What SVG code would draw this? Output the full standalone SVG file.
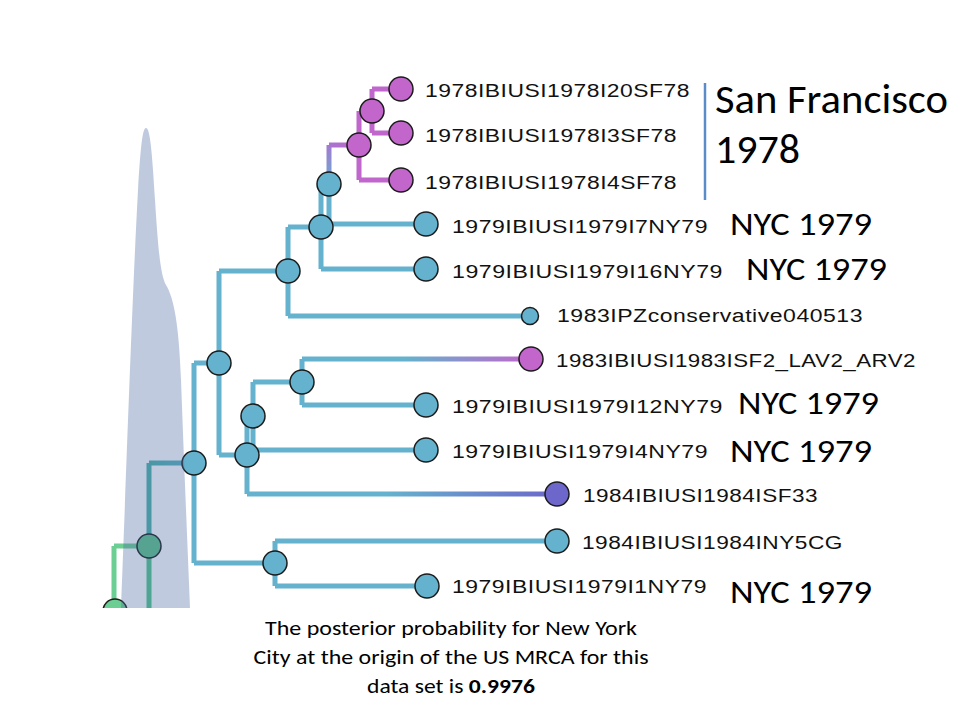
<svg xmlns="http://www.w3.org/2000/svg" width="960" height="720" viewBox="0 0 960 720">
<defs>
<style>
.e{fill:none;stroke-width:5;stroke-linejoin:miter}
.b{stroke:#64b2cd}
.p{stroke:#c066cc}
.n{stroke:#1c1c1c;stroke-width:1.5}
.nb{fill:#64b2cd}
.np{fill:#c266cc}
.tip{font-family:"Liberation Sans",Arial,sans-serif;font-size:18px;letter-spacing:0.4px;fill:#111}
.big{font-family:Carlito,Calibri,Lato,"Open Sans",sans-serif;fill:#000}
.cap{font-family:Carlito,Calibri,Lato,"Open Sans",sans-serif;font-size:21px;fill:#000;text-anchor:middle}
</style>
<linearGradient id="gCBv" gradientUnits="userSpaceOnUse" x1="0" y1="184" x2="0" y2="145"><stop offset="0" stop-color="#68aed0"/><stop offset="1" stop-color="#a37ad0"/></linearGradient>
<linearGradient id="gCBh" gradientUnits="userSpaceOnUse" x1="329" y1="0" x2="359" y2="0"><stop offset="0" stop-color="#a874cf"/><stop offset="1" stop-color="#c066cc"/></linearGradient>
<linearGradient id="gSF2" gradientUnits="userSpaceOnUse" x1="302" y1="0" x2="531" y2="0"><stop offset="0" stop-color="#64b2cd"/><stop offset="0.45" stop-color="#64b2cd"/><stop offset="1" stop-color="#c066cc"/></linearGradient>
<linearGradient id="gSF33" gradientUnits="userSpaceOnUse" x1="247" y1="0" x2="557" y2="0"><stop offset="0" stop-color="#64b2cd"/><stop offset="0.45" stop-color="#64b2cd"/><stop offset="1" stop-color="#6d66cb"/></linearGradient>
<linearGradient id="gMK" gradientUnits="userSpaceOnUse" x1="149" y1="0" x2="194" y2="0"><stop offset="0" stop-color="#4ab2a6"/><stop offset="1" stop-color="#5fb0c8"/></linearGradient>
<clipPath id="clip"><rect x="0" y="0" width="960" height="608"/></clipPath>
</defs>
<rect width="960" height="720" fill="#fff"/>

<g clip-path="url(#clip)">
<g id="connectors">
<path class="e p" d="M372,89 V133 M372,89 H401 M372,133 H401"/>
<path class="e p" d="M359,111 V180 M359,111 H372 M359,180 H401"/>
<path class="e" stroke="url(#gCBv)" d="M329,184 V145"/>
<path class="e" stroke="url(#gCBh)" d="M329,145 H359"/>
<path class="e b" d="M329,184 V224 H426"/>
<path class="e b" d="M321,184 V269 M321,184 H329 M321,269 H426"/>
<path class="e b" d="M288,227 V316 M288,227 H321 M288,316 H530"/>
<path class="e b" d="M219,271 V455 M219,271 H288 M219,455 H247"/>
<path class="e b" d="M302,359 V405 M302,405 H426"/>
<path class="e" stroke="url(#gSF2)" d="M302,359 H531"/>
<path class="e b" d="M253,382 V450 M253,382 H302 M253,450 H426"/>
<path class="e b" d="M247,416 V494 M247,416 H253"/>
<path class="e" stroke="url(#gSF33)" d="M247,494 H557"/>
<path class="e b" d="M194,363 V563 M194,363 H219 M194,563 H275"/>
<path class="e b" d="M275,541 V586 M275,541 H557 M275,586 H427"/>
<path class="e" stroke="url(#gMK)" d="M149,463 H194"/>
<path class="e" stroke="#4ab2a6" d="M149,463 V546"/>
<path class="e" stroke="#50c68a" d="M149,546 V640"/>
<path class="e" stroke="#6bcf93" d="M114,546 V640 M114,546 H149"/>
</g>

<g id="node-A"><circle class="n np" cx="372" cy="111" r="12"/></g>
<g id="node-B"><circle class="n np" cx="359" cy="145" r="12"/></g>
<g id="node-C"><circle class="n nb" cx="329" cy="184" r="12"/></g>
<g id="node-D"><circle class="n nb" cx="321" cy="227" r="12"/></g>
<g id="node-E"><circle class="n nb" cx="288" cy="271" r="12"/></g>
<g id="node-F"><circle class="n nb" cx="219" cy="363" r="12"/></g>
<g id="node-J"><circle class="n nb" cx="302" cy="382" r="12"/></g>
<g id="node-I"><circle class="n nb" cx="253" cy="416" r="12"/></g>
<g id="node-H"><circle class="n nb" cx="247" cy="455" r="12"/></g>
<g id="node-K"><circle class="n nb" cx="194" cy="463" r="12"/></g>
<g id="node-L"><circle class="n nb" cx="275" cy="563" r="12"/></g>
<g id="node-M"><circle class="n" fill="#5cc488" cx="149" cy="546" r="12"/></g>
<g id="node-N"><circle class="n" fill="#6bcf93" cx="115" cy="611" r="12"/></g>

<path fill="#4b68a4" fill-opacity="0.35" d="M121,608 C126,480 132,300 138,190 C141,140 143,128 146,128 C150,128 152,150 155,200 C158,245 160,274 166,285 C174,298 179,325 181,380 L184,460 L190,608 Z"/>
</g>

<g id="tip-20SF78"><circle class="n np" cx="401" cy="89" r="12"/><text class="tip" x="425" y="97" textLength="265" lengthAdjust="spacingAndGlyphs">1978IBIUSI1978I20SF78</text></g>
<g id="tip-3SF78"><circle class="n np" cx="401" cy="133" r="12"/><text class="tip" x="425" y="142" textLength="252" lengthAdjust="spacingAndGlyphs">1978IBIUSI1978I3SF78</text></g>
<g id="tip-4SF78"><circle class="n np" cx="401" cy="180" r="12"/><text class="tip" x="425" y="189" textLength="252" lengthAdjust="spacingAndGlyphs">1978IBIUSI1978I4SF78</text></g>
<g id="tip-7NY79"><circle class="n nb" cx="426" cy="224" r="12"/><text class="tip" x="452" y="233" textLength="256" lengthAdjust="spacingAndGlyphs">1979IBIUSI1979I7NY79</text></g>
<g id="tip-16NY79"><circle class="n nb" cx="426" cy="269" r="12"/><text class="tip" x="452" y="278" textLength="271" lengthAdjust="spacingAndGlyphs">1979IBIUSI1979I16NY79</text></g>
<g id="tip-PZ"><circle class="n nb" cx="530" cy="316" r="8.5"/><text class="tip" x="557" y="322" textLength="306" lengthAdjust="spacingAndGlyphs">1983IPZconservative040513</text></g>
<g id="tip-SF2"><circle class="n np" cx="531" cy="359" r="12"/><text class="tip" x="556" y="367" textLength="360" lengthAdjust="spacingAndGlyphs">1983IBIUSI1983ISF2_LAV2_ARV2</text></g>
<g id="tip-12NY79"><circle class="n nb" cx="426" cy="405" r="12"/><text class="tip" x="452" y="413" textLength="271" lengthAdjust="spacingAndGlyphs">1979IBIUSI1979I12NY79</text></g>
<g id="tip-4NY79"><circle class="n nb" cx="426" cy="450" r="12"/><text class="tip" x="452" y="458" textLength="256" lengthAdjust="spacingAndGlyphs">1979IBIUSI1979I4NY79</text></g>
<g id="tip-SF33"><circle class="n" fill="#6d66cb" cx="557" cy="494" r="12"/><text class="tip" x="583" y="502" textLength="235" lengthAdjust="spacingAndGlyphs">1984IBIUSI1984ISF33</text></g>
<g id="tip-NY5CG"><circle class="n nb" cx="557" cy="541" r="12"/><text class="tip" x="582" y="549" textLength="261" lengthAdjust="spacingAndGlyphs">1984IBIUSI1984INY5CG</text></g>
<g id="tip-1NY79"><circle class="n nb" cx="427" cy="586" r="12"/><text class="tip" x="452" y="593" textLength="255" lengthAdjust="spacingAndGlyphs">1979IBIUSI1979I1NY79</text></g>

<g id="annotations">
<line x1="705" y1="83" x2="705" y2="200" stroke="#5b8cc8" stroke-width="2.5"/>
<text class="big" x="715" y="113" font-size="40" textLength="233" lengthAdjust="spacingAndGlyphs">San Francisco</text>
<text class="big" x="715" y="163" font-size="40" textLength="85" lengthAdjust="spacingAndGlyphs">1978</text>
<text class="big" x="730" y="235" font-size="33" textLength="142" lengthAdjust="spacingAndGlyphs">NYC 1979</text>
<text class="big" x="746" y="280" font-size="33" textLength="141" lengthAdjust="spacingAndGlyphs">NYC 1979</text>
<text class="big" x="738" y="414" font-size="33" textLength="141" lengthAdjust="spacingAndGlyphs">NYC 1979</text>
<text class="big" x="730" y="462" font-size="33" textLength="142" lengthAdjust="spacingAndGlyphs">NYC 1979</text>
<text class="big" x="730" y="603" font-size="33" textLength="142" lengthAdjust="spacingAndGlyphs">NYC 1979</text>
</g>

<g id="caption">
<text class="cap" x="451" y="635" textLength="372" lengthAdjust="spacingAndGlyphs">The posterior probability for New York</text>
<text class="cap" x="451" y="664" textLength="395" lengthAdjust="spacingAndGlyphs">City at the origin of the US MRCA for this</text>
<text class="cap" x="451" y="693" textLength="168" lengthAdjust="spacingAndGlyphs">data set is <tspan font-weight="bold">0.9976</tspan></text>
</g>
</svg>
